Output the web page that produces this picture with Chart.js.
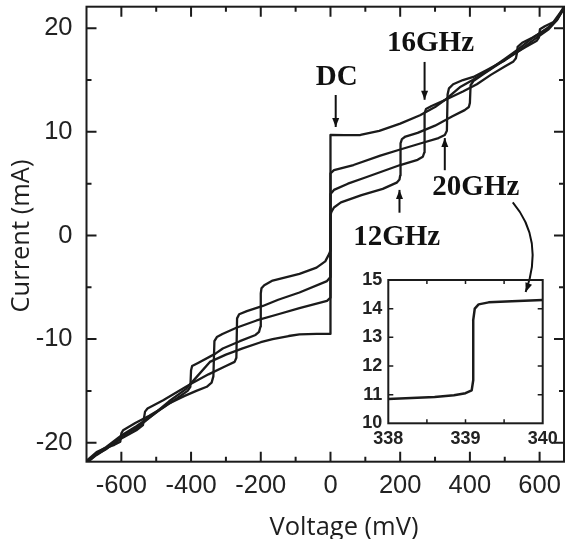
<!DOCTYPE html>
<html>
<head>
<meta charset="utf-8">
<script src="https://cdn.jsdelivr.net/npm/chart.js@4.4.0/dist/chart.umd.min.js"></script>
<style>
html, body { margin: 0; padding: 0; background: #fff; }
#wrap { position: relative; width: 569px; height: 539px; }
#main { position: absolute; left: 0; top: 0; }
#inset { position: absolute; left: 330px; top: 265px; }
</style>
</head>
<body>
<div id="wrap">
<canvas id="main" width="569" height="539"></canvas>
<canvas id="inset" width="239" height="195"></canvas>
</div>
<script>
// axis ticks (mV / mA)
const voltTicks = [-600, -400, -200, 0, 200, 400, 600];
const voltMinor = [-500, -300, -100, 100, 300, 500];
const currTicks = [-20, -10, 0, 10, 20];
const currMinor = [-15, -5, 5, 15];

// I-V curves, [voltage mV, current mA]
const dcCurve = [
  [-702, -22.0], [-671, -21.1], [-643, -20.6], [-600, -19.4], [-557, -18.6], [-509, -17.3],
  [-463, -16.0], [-414, -14.8], [-380, -13.5], [-346, -12.2], [-300, -11.5], [-252, -10.9],
  [-200, -10.3], [-166, -10.0], [-120, -9.7], [-89, -9.55], [-40, -9.5], [0, -9.5],
  [0, 9.7], [40, 9.68], [86, 9.7], [140, 10.1], [200, 10.8], [257, 11.6], [300, 12.4],
  [333, 13.2], [371, 14.3], [408, 15.0], [460, 16.1], [503, 17.1], [540, 18.0],
  [577, 19.0], [626, 20.1], [650, 20.9], [672, 22.2]
];
const rf12Curve = [
  [-702, -21.8], [-671, -20.9], [-645, -20.5], [-620, -20.2], [-603, -19.9], [-600, -19.1],
  [-595, -18.8], [-560, -18.1], [-520, -17.4], [-480, -16.6], [-440, -15.7], [-410, -15.0],
  [-402, -14.6], [-400, -13.0], [-397, -12.6], [-380, -12.3], [-330, -11.4], [-309, -10.9],
  [-260, -10.2], [-215, -9.6], [-205, -9.3], [-201, -8.8], [-200, -5.6], [-198, -5.1],
  [-190, -4.8], [-166, -4.35], [-89, -3.7], [-40, -3.1], [-15, -2.5], [-4, -1.8], [0, -1.45],
  [0, 2.0], [3, 2.3], [10, 2.7], [30, 3.2], [89, 3.9], [150, 4.5], [190, 5.1], [198, 5.4],
  [200, 5.8], [201, 8.9], [205, 9.3], [215, 9.55], [250, 9.9], [300, 10.6], [350, 11.5],
  [385, 12.1], [397, 12.4], [400, 12.8], [402, 14.5], [410, 14.9], [440, 15.6],
  [480, 16.5], [520, 17.4], [560, 18.2], [592, 18.8], [598, 19.1], [601, 19.9],
  [615, 20.2], [640, 20.6], [672, 22.1]
];
const rf16Curve = [
  [-702, -22.0], [-672, -21.2], [-640, -20.5], [-600, -19.6], [-557, -18.8], [-538, -18.3],
  [-535, -17.6], [-532, -17.0], [-525, -16.7], [-480, -15.9], [-440, -15.1], [-400, -14.3],
  [-350, -13.4], [-300, -12.6], [-275, -12.2], [-270, -11.8], [-268, -8.0], [-262, -7.6],
  [-240, -7.3], [-194, -6.8], [-150, -6.2], [-89, -5.5], [-10, -4.4], [0, -4.0],
  [0, 4.0], [10, 4.4], [50, 5.0], [100, 5.6], [150, 6.2], [200, 6.8], [250, 7.3],
  [265, 7.6], [269, 8.0], [270, 11.8], [274, 12.2], [290, 12.5], [330, 13.1], [380, 13.9],
  [420, 14.6], [460, 15.5], [500, 16.3], [525, 16.8], [532, 17.1], [535, 17.6],
  [537, 18.2], [550, 18.6], [580, 19.1], [620, 19.9], [650, 20.8], [672, 22.0]
];
const rf20Curve = [
  [-702, -21.9], [-671, -21.0], [-643, -20.4], [-600, -19.3], [-557, -18.4], [-509, -17.3],
  [-463, -16.2], [-420, -15.5], [-385, -15.0], [-355, -14.6], [-341, -14.2], [-336, -13.6],
  [-333, -10.2], [-326, -9.8], [-310, -9.5], [-270, -8.9], [-212, -8.2], [-150, -7.6],
  [-89, -7.0], [-10, -6.3], [0, -6.0],
  [0, 6.0], [10, 6.3], [66, 6.8], [143, 7.7], [200, 8.3], [260, 8.9], [310, 9.4],
  [328, 9.7], [334, 10.1], [336, 13.6], [340, 14.2], [352, 14.6], [380, 15.0],
  [410, 15.3], [450, 16.0], [500, 16.9], [540, 17.8], [580, 18.8], [626, 19.9],
  [650, 20.8], [672, 22.1]
];

// inset: 20 GHz step around 339 mV
const insetVoltTicks = [338, 339, 340];
const insetVoltMarks = [338.5, 339, 339.5];
const insetCurrTicks = [10, 11, 12, 13, 14, 15];
const insetCurrMarks = [11, 12, 13, 14];
const insetCurve = [
  [338, 10.85], [338.3, 10.88], [338.6, 10.92], [338.85, 10.98], [339.0, 11.05],
  [339.08, 11.15], [339.1, 11.5], [339.1, 13.6], [339.12, 14.0], [339.17, 14.15],
  [339.3, 14.22], [339.6, 14.26], [340, 14.3]
];

// annotations, in data units of the main chart
const noteTexts = ['DC', '16GHz', '20GHz', '12GHz'];
const notePos = [[17.8, 15.2], [287, 18.5], [417, 4.6], [190, -0.15]];
const arrowTail = [[15, 13.56], [270, 16.75], [328, 6.3], [198, 2.2]];
const arrowHead = [[15, 10.47], [270, 13.1], [328, 9.4], [198, 4.4]];
const insetPointer = [[523, 3.2], [614, -0.43], [560, -5.45]];

const ink = '#1b1b1b';
const toXY = arr => arr.map(p => ({ x: p[0], y: p[1] }));

function curveSet(points) {
  return {
    data: toXY(points),
    showLine: true,
    borderColor: ink,
    borderWidth: 2.3,
    borderJoinStyle: 'round',
    pointRadius: 0,
    tension: 0
  };
}

function head(ctx, x1, y1, x2, y2, len, wid) {
  const a = Math.atan2(y2 - y1, x2 - x1);
  ctx.beginPath();
  ctx.moveTo(x2, y2);
  ctx.lineTo(x2 - len * Math.cos(a) + wid * Math.sin(a), y2 - len * Math.sin(a) - wid * Math.cos(a));
  ctx.lineTo(x2 - len * Math.cos(a) - wid * Math.sin(a), y2 - len * Math.sin(a) + wid * Math.cos(a));
  ctx.closePath();
  ctx.fill();
}

// frame with inward ticks on all four sides
const frameTicks = {
  id: 'frameTicks',
  afterDatasetsDraw(chart, args, o) {
    const { ctx, chartArea: a, scales: { x, y } } = chart;
    ctx.save();
    ctx.strokeStyle = ink;
    ctx.lineWidth = o.frame;
    ctx.strokeRect(a.left, a.top, a.right - a.left, a.bottom - a.top);
    ctx.lineWidth = o.tickWidth;
    ctx.beginPath();
    const xm = (vals, len) => vals.forEach(v => {
      const px = x.getPixelForValue(v);
      ctx.moveTo(px, a.bottom); ctx.lineTo(px, a.bottom - len);
      ctx.moveTo(px, a.top); ctx.lineTo(px, a.top + len);
    });
    const ym = (vals, len) => vals.forEach(v => {
      const py = y.getPixelForValue(v);
      ctx.moveTo(a.left, py); ctx.lineTo(a.left + len, py);
      ctx.moveTo(a.right, py); ctx.lineTo(a.right - len, py);
    });
    xm(o.xMajor, o.majorLen); xm(o.xMinor, o.minorLen);
    ym(o.yMajor, o.majorLen); ym(o.yMinor, o.minorLen);
    ctx.stroke();
    ctx.restore();
  }
};

// axis titles and the labelled arrows
const notes = {
  id: 'notes',
  afterDraw(chart) {
    const { ctx, scales: { x, y } } = chart;
    ctx.save();
    ctx.fillStyle = '#1e1e1e';
    ctx.font = '25.5px "Open Sans"';
    ctx.textAlign = 'center';
    ctx.textBaseline = 'alphabetic';
    ctx.fillText('Voltage (mV)', 344, 535);
    ctx.translate(29, 236);
    ctx.rotate(-Math.PI / 2);
    ctx.fillText('Current (mA)', 0, 0);
    ctx.restore();

    ctx.save();
    ctx.fillStyle = '#111';
    ctx.strokeStyle = '#111';
    ctx.font = 'bold 29px "Liberation Serif"';
    ctx.textAlign = 'center';
    ctx.textBaseline = 'middle';
    noteTexts.forEach((t, i) => {
      ctx.fillText(t, x.getPixelForValue(notePos[i][0]), y.getPixelForValue(notePos[i][1]));
    });
    ctx.lineWidth = 2;
    arrowTail.forEach((t, i) => {
      const x1 = x.getPixelForValue(t[0]), y1 = y.getPixelForValue(t[1]);
      const x2 = x.getPixelForValue(arrowHead[i][0]), y2 = y.getPixelForValue(arrowHead[i][1]);
      ctx.beginPath(); ctx.moveTo(x1, y1); ctx.lineTo(x2, y2); ctx.stroke();
      head(ctx, x1, y1, x2, y2, 9, 3.5);
    });
    const [s, c, e] = insetPointer.map(p => [x.getPixelForValue(p[0]), y.getPixelForValue(p[1])]);
    ctx.beginPath(); ctx.moveTo(s[0], s[1]); ctx.quadraticCurveTo(c[0], c[1], e[0], e[1]); ctx.stroke();
    head(ctx, c[0], c[1], e[0], e[1], 9, 3.5);
    ctx.restore();
  }
};

const tickFont = { family: '"Liberation Sans", Arial, sans-serif', size: 25.5 };

new Chart(document.getElementById('main'), {
  type: 'scatter',
  data: { datasets: [curveSet(dcCurve), curveSet(rf12Curve), curveSet(rf16Curve), curveSet(rf20Curve)] },
  options: {
    responsive: false,
    animation: false,
    layout: { padding: { top: 6.7, right: 5, left: 0, bottom: 0 } },
    plugins: {
      legend: { display: false },
      tooltip: { enabled: false },
      frameTicks: { frame: 2, tickWidth: 2, majorLen: 10, minorLen: 5,
        xMajor: voltTicks, xMinor: voltMinor, yMajor: currTicks, yMinor: currMinor }
    },
    scales: {
      x: {
        type: 'linear', min: -700, max: 670,
        afterBuildTicks: s => { s.ticks = voltTicks.map(v => ({ value: v })); },
        afterFit: s => { s.height = 77.3; s.paddingLeft = 0; s.paddingRight = 0; },
        grid: { display: false, drawTicks: false },
        border: { display: false },
        ticks: { padding: 9, color: '#222', font: tickFont, maxRotation: 0, autoSkip: false, callback: v => String(v) }
      },
      y: {
        type: 'linear', min: -21.83, max: 22.08,
        afterBuildTicks: s => { s.ticks = currTicks.map(v => ({ value: v })); },
        afterFit: s => { s.width = 86.5; s.paddingTop = 0; s.paddingBottom = 0; },
        grid: { display: false, drawTicks: false },
        border: { display: false },
        ticks: { padding: 14, color: '#222', font: tickFont, autoSkip: false, callback: v => String(v) }
      }
    }
  },
  plugins: [frameTicks, notes]
});

const insetFont = { family: '"Liberation Sans", Arial, sans-serif', size: 18, weight: 'bold' };

new Chart(document.getElementById('inset'), {
  type: 'scatter',
  data: { datasets: [Object.assign(curveSet(insetCurve), { borderWidth: 2.5 })] },
  options: {
    responsive: false,
    animation: false,
    layout: { padding: { top: 15, right: 26.3, left: 0, bottom: 0 } },
    plugins: {
      legend: { display: false },
      tooltip: { enabled: false },
      frameTicks: { frame: 2, tickWidth: 1.5, majorLen: 5, minorLen: 4,
        xMajor: [], xMinor: insetVoltMarks, yMajor: insetCurrMarks, yMinor: [] }
    },
    scales: {
      x: {
        type: 'linear', min: 338, max: 340,
        afterBuildTicks: s => { s.ticks = insetVoltTicks.map(v => ({ value: v })); },
        afterFit: s => { s.height = 36.7; s.paddingLeft = 0; s.paddingRight = 0; },
        grid: { display: false, drawTicks: false },
        border: { display: false },
        ticks: { padding: 5, color: '#222', font: insetFont, maxRotation: 0, autoSkip: false, callback: v => String(v) }
      },
      y: {
        type: 'linear', min: 10, max: 15,
        afterBuildTicks: s => { s.ticks = insetCurrTicks.map(v => ({ value: v })); },
        afterFit: s => { s.width = 58.3; s.paddingTop = 0; s.paddingBottom = 0; },
        grid: { display: false, drawTicks: false },
        border: { display: false },
        ticks: { padding: 6, color: '#222', font: insetFont, autoSkip: false, callback: v => String(v) }
      }
    }
  },
  plugins: [frameTicks]
});
</script>
</body>
</html>
